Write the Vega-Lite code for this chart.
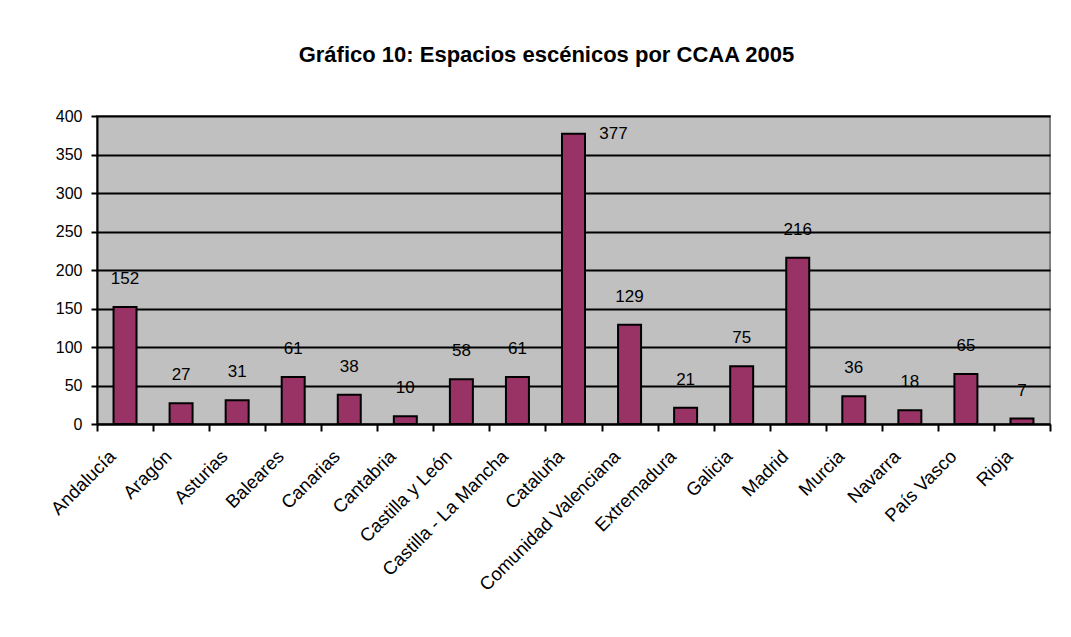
{
  "$schema": "https://vega.github.io/schema/vega-lite/v6.json",
  "autosize": {"type": "none"},
  "padding": {"left": 97, "top": 116, "right": 21, "bottom": 213},
  "width": 953,
  "height": 308,
  "background": "white",
  "title": {
    "text": "Gráfico 10: Espacios escénicos por CCAA 2005",
    "font": "Liberation Sans",
    "fontSize": 22,
    "fontWeight": "bold",
    "color": "black",
    "anchor": "middle",
    "dx": -27,
    "offset": 41
  },
  "data": {
    "values": [
      {"ccaa": "Andalucía", "espacios": 152},
      {"ccaa": "Aragón", "espacios": 27},
      {"ccaa": "Asturias", "espacios": 31},
      {"ccaa": "Baleares", "espacios": 61},
      {"ccaa": "Canarias", "espacios": 38},
      {"ccaa": "Cantabria", "espacios": 10},
      {"ccaa": "Castilla y León", "espacios": 58},
      {"ccaa": "Castilla - La Mancha", "espacios": 61},
      {"ccaa": "Cataluña", "espacios": 377},
      {"ccaa": "Comunidad Valenciana", "espacios": 129},
      {"ccaa": "Extremadura", "espacios": 21},
      {"ccaa": "Galicia", "espacios": 75},
      {"ccaa": "Madrid", "espacios": 216},
      {"ccaa": "Murcia", "espacios": 36},
      {"ccaa": "Navarra", "espacios": 18},
      {"ccaa": "País Vasco", "espacios": 65},
      {"ccaa": "Rioja", "espacios": 7}
    ]
  },
  "encoding": {
    "x": {
      "field": "ccaa",
      "type": "nominal",
      "sort": null,
      "title": null,
      "scale": {"paddingInner": 0, "paddingOuter": 0},
      "axis": {
        "labelAngle": -45,
        "labelAlign": "right",
        "labelBaseline": "middle",
        "labelFont": "Liberation Sans",
        "labelFontSize": 18.5,
        "labelColor": "black",
        "labelPadding": 22,
        "labelOffset": -13,
        "labelLimit": 400,
        "domainColor": "black",
        "domainWidth": 2,
        "tickColor": "black",
        "tickWidth": 2,
        "tickSize": 7,
        "tickBand": "extent",
        "grid": false
      }
    },
    "y": {
      "field": "espacios",
      "type": "quantitative",
      "title": null,
      "scale": {"domain": [0, 400], "nice": false},
      "axis": {
        "values": [0, 50, 100, 150, 200, 250, 300, 350, 400],
        "labelFont": "Liberation Sans",
        "labelFontSize": 16,
        "labelColor": "black",
        "labelPadding": 9,
        "domainColor": "black",
        "domainWidth": 2,
        "tickColor": "black",
        "tickWidth": 2,
        "tickSize": 6,
        "grid": true,
        "gridColor": "black",
        "gridWidth": 2,
        "gridOpacity": 1
      }
    }
  },
  "layer": [
    {
      "mark": {"type": "bar", "width": {"band": 0.41}, "fill": "#993366", "stroke": "black", "strokeWidth": 2}
    },
    {
      "transform": [{"filter": "datum.espacios < 300"}],
      "mark": {"type": "text", "font": "Liberation Sans", "fontSize": 17, "color": "black", "baseline": "middle", "align": "center", "dy": -28},
      "encoding": {"text": {"field": "espacios", "type": "quantitative"}}
    },
    {
      "transform": [{"filter": "datum.espacios >= 300"}],
      "mark": {"type": "text", "font": "Liberation Sans", "fontSize": 17, "color": "black", "baseline": "middle", "align": "center", "dx": 40, "dy": 0},
      "encoding": {"text": {"field": "espacios", "type": "quantitative"}}
    }
  ],
  "config": {
    "view": {"fill": "#C0C0C0", "stroke": "#808080", "strokeWidth": 2}
  }
}
